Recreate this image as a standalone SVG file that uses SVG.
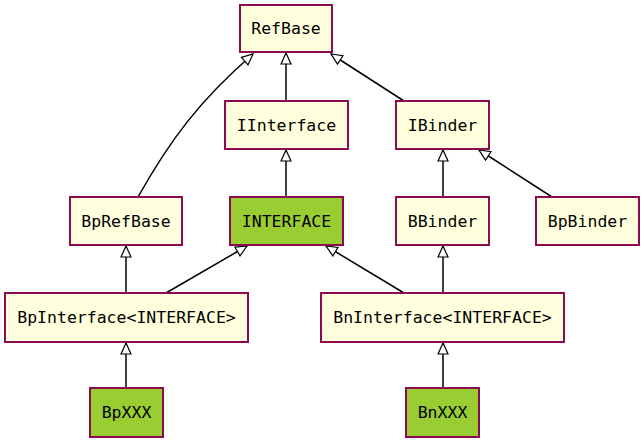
<svg xmlns="http://www.w3.org/2000/svg" width="644" height="443" viewBox="0 0 644 443">
<defs>
<marker id="tri" markerWidth="14" markerHeight="14" refX="12" refY="6" orient="auto" markerUnits="userSpaceOnUse">
<path d="M1,1 L12,6 L1,11 Z" fill="#fff" stroke="#000" stroke-width="1.2"/>
</marker>
</defs>
<style>
.n rect{fill:#FFFFDD;stroke:#8B0A50;stroke-width:2}
.g rect{fill:#9ACD32}
text{font-family:"DejaVu Sans Mono","Liberation Mono",monospace;font-size:16.5px;fill:#000;text-anchor:middle;dominant-baseline:central}
#edges path{fill:none;stroke:#000;stroke-width:1.5;marker-end:url(#tri)}
</style>
<rect width="644" height="443" fill="#fff"/>
<g id="edges">
<path d="M286,101 L286,53"/>
<path d="M404,101 L331,54"/>
<path d="M138,197 C170,140 200,100 253,54"/>
<path d="M286,197 L286,150"/>
<path d="M443,197 L443,150"/>
<path d="M552,197 L479,150"/>
<path d="M126,293 L126,246"/>
<path d="M166,293 L247,246"/>
<path d="M404,293 L326,246"/>
<path d="M443,293 L443,246"/>
<path d="M126,388 L126,343"/>
<path d="M443,388 L443,343"/>
</g>
<g id="RefBase" class="n"><rect x="240" y="5" width="92" height="47"/><text x="286" y="28.5">RefBase</text></g>
<g id="IInterface" class="n"><rect x="225" y="101" width="123" height="48"/><text x="286.5" y="125">IInterface</text></g>
<g id="IBinder" class="n"><rect x="396" y="101" width="93" height="48"/><text x="442.5" y="125">IBinder</text></g>
<g id="BpRefBase" class="n"><rect x="70" y="197" width="112" height="48"/><text x="126" y="221">BpRefBase</text></g>
<g id="INTERFACE" class="n g"><rect x="230" y="197" width="113" height="48"/><text x="286.5" y="221">INTERFACE</text></g>
<g id="BBinder" class="n"><rect x="396" y="197" width="93" height="48"/><text x="442.5" y="221">BBinder</text></g>
<g id="BpBinder" class="n"><rect x="536" y="197" width="103" height="48"/><text x="587.5" y="221">BpBinder</text></g>
<g id="BpInterface" class="n"><rect x="5" y="293" width="243" height="49"/><text x="126.5" y="317.5">BpInterface&lt;INTERFACE&gt;</text></g>
<g id="BnInterface" class="n"><rect x="321" y="293" width="243" height="49"/><text x="442.5" y="317.5">BnInterface&lt;INTERFACE&gt;</text></g>
<g id="BpXXX" class="n g"><rect x="90" y="388" width="73" height="49"/><text x="126.5" y="412.5">BpXXX</text></g>
<g id="BnXXX" class="n g"><rect x="406" y="388" width="73" height="49"/><text x="442.5" y="412.5">BnXXX</text></g>
</svg>
